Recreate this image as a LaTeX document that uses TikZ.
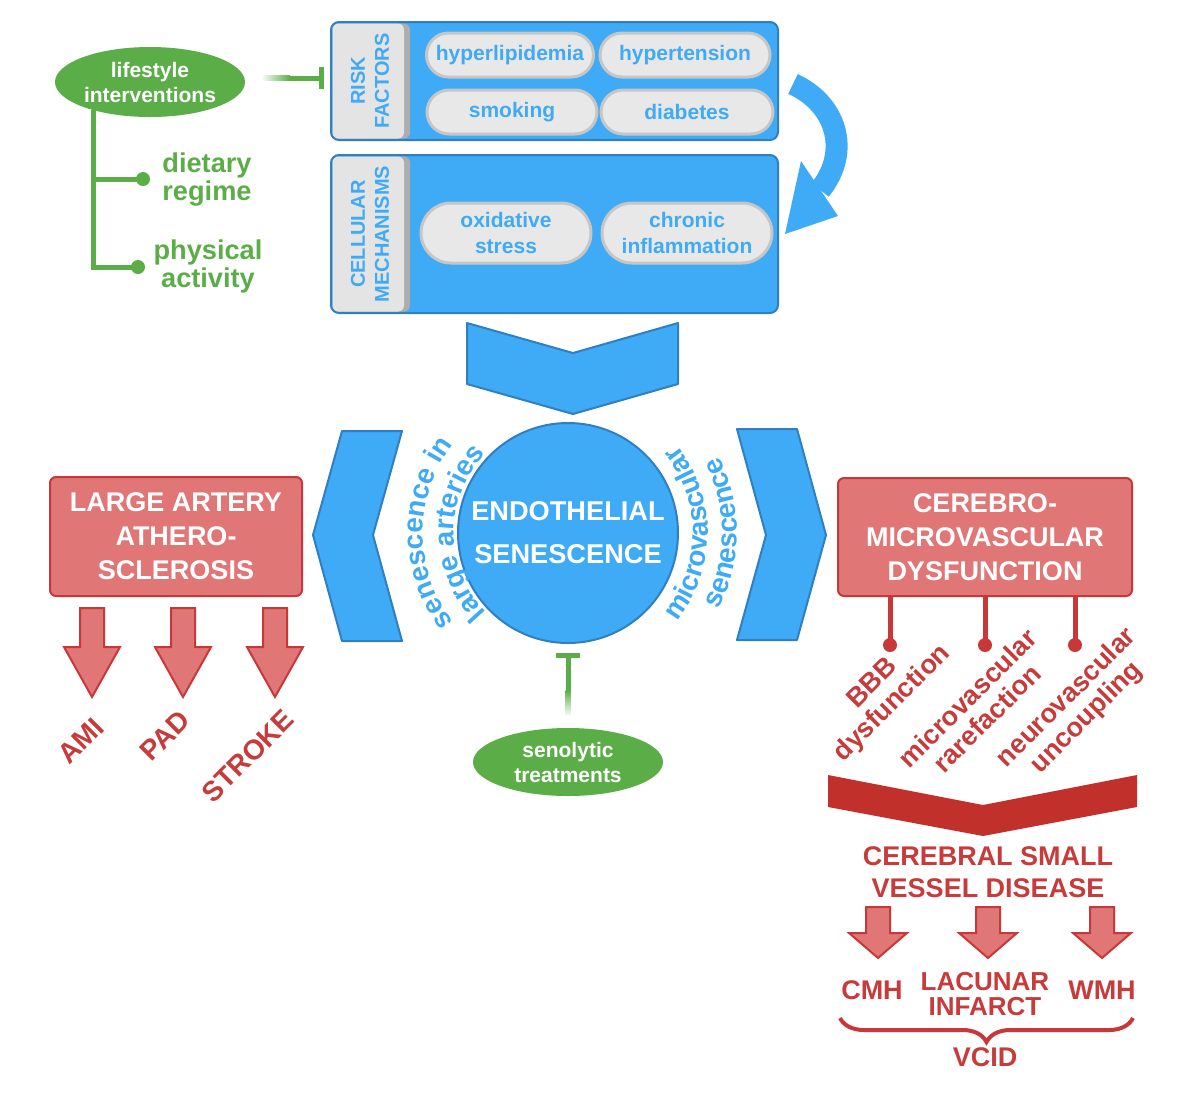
\documentclass[tikz,border=0pt]{standalone}
\usepackage{fontspec}
\setmainfont{Liberation Sans}
\usetikzlibrary{shapes.geometric,shapes.misc,arrows.meta,decorations.text,decorations.pathreplacing}

\definecolor{skyb}{HTML}{3FAAF5}
\definecolor{skyd}{HTML}{2F7FC1}
\definecolor{pillf}{HTML}{E8E8E8}
\definecolor{pilld}{HTML}{C6C6C6}
\definecolor{tabf}{HTML}{E4E4E4}
\definecolor{tabs}{HTML}{ADADAD}
\definecolor{grn}{HTML}{5BAE47}
\definecolor{redf}{HTML}{E07676}
\definecolor{redd}{HTML}{C93838}
\definecolor{redt}{HTML}{C73B3B}
\definecolor{redc}{HTML}{C2302B}

\newcommand\fs[2]{\fontsize{#1}{#2}\selectfont\bfseries}
\newcommand\cfont{\fontsize{14}{14}\selectfont\bfseries\color{skyb}}

\begin{document}
\begin{tikzpicture}[x=0.5pt,y=-0.5pt,
  panel/.style={draw=skyd, line width=1pt, fill=skyb, rounded corners=4pt, inner sep=0pt},
  pill/.style={shape=rounded rectangle, fill=pillf, draw=pilld, line width=1.5pt, minimum height=22pt, text=skyb, font=\fs{10.5}{13}, align=center, inner sep=0pt},
  tabtext/.style={rotate=90, text=skyb, font=\fs{10}{12}, align=center},
  gline/.style={draw=grn, line width=2.5pt},
  gdot/.style={circle, fill=grn, minimum size=7pt, inner sep=0pt},
  gell/.style={ellipse, fill=grn, text=white, font=\fs{10.5}{12.5}, align=center, inner sep=0pt},
  gtxt/.style={text=grn, font=\fs{13.6}{14}, align=center},
  rbox/.style={draw=redd, fill=redf, line width=1pt, rounded corners=3pt, text=white, font=\fs{13.5}{17}, align=center, inner sep=0pt},
  rlab/.style={text=redt, font=\fs{13.5}{14}, align=center, rotate=45, inner sep=0pt},
  rtxt/.style={text=redt, font=\fs{13.5}{16}, align=center, inner sep=0pt},
  rarrow/.style={fill=redf, draw=redd, line width=1pt},
  rline/.style={draw=redd, line width=2.5pt},
  rdot/.style={circle, fill=redd, minimum size=7pt, inner sep=0pt},
  bchev/.style={fill=skyb, draw=skyd, line width=1pt, line join=round},
  bigarr/.pic={\filldraw[rarrow] (-12,0) -- (12,0) -- (12,39) -- (28,39) -- (0,89) -- (-28,39) -- (-12,39) -- cycle;},
  smallarr/.pic={\filldraw[rarrow] (-12,0) -- (12,0) -- (12,26) -- (29,26) -- (0,51) -- (-29,26) -- (-12,26) -- cycle;}
]
\useasboundingbox (0,0) rectangle (1180,1100);

% ---------- risk factors panel ----------
\node[panel, minimum width=223.5pt, minimum height=59pt] (risk) at (554.5,81) {};
\fill[tabs, rounded corners=3pt] (332.5,23.5) rectangle (410,138.5);
\fill[tabf, rounded corners=3pt] (332.5,23.5) rectangle (404,138.5);
\node[tabtext] (risklab) at (370,81) {RISK\\FACTORS};
\node[pill, minimum width=83.5pt] (hyperl) at (510,55) {hyperlipidemia};
\node[pill, minimum width=85pt] (hypert) at (685,55) {hypertension};
\node[pill, minimum width=85pt] (smok) at (512,112) {smoking};
\node[pill, minimum width=86pt] (diab) at (687,112) {diabetes};

% ---------- cellular mechanisms panel ----------
\node[panel, minimum width=223.5pt, minimum height=79pt] (cell) at (554.5,234) {};
\fill[tabs, rounded corners=3pt] (332.5,156.5) rectangle (410,311.5);
\fill[tabf, rounded corners=3pt] (332.5,156.5) rectangle (404,311.5);
\node[tabtext] (celllab) at (370,234) {CELLULAR\\MECHANISMS};
\node[pill, minimum width=85pt, minimum height=30pt] (oxid) at (506,233) {oxidative\\stress};
\node[pill, minimum width=85pt, minimum height=30pt] (chron) at (687,233) {chronic\\inflammation};

% curved arrow between panels
\draw[skyb, line width=11pt] (793,84) .. controls (835,103) and (852,150) .. (820,190);
\fill[skyb] (801,161) -- (838,216) -- (785,234) -- cycle;

% big chevron
\filldraw[bchev] (467,323) -- (573,353) -- (678,323) -- (678,384) -- (573,414) -- (467,384) -- cycle;

% ---------- lifestyle ----------
\node[gell, minimum width=95pt, minimum height=35pt] (life) at (150,82) {lifestyle\\interventions};
\coordinate (lifeout) at (262,78);
\draw[gline, -{Bar[width=11pt]}, shorten >=3pt] (lifeout) -- (risk.west |- lifeout);
\shade[left color=white, right color=grn] (261,75.5) rectangle (290,80.5);
\coordinate (trunk) at (93,110);
\node[gdot] (d1) at (143,179) {};
\node[gdot] (d2) at (138,267) {};
\draw[gline] (trunk) |- (d2.center);
\draw[gline] (trunk |- d1) -- (d1.center);
\node[gtxt] (diet) at (207,180) {dietary\\regime};
\node[gtxt] (phys) at (208,266) {physical\\activity};

% ---------- endothelial senescence ----------
\node[circle, minimum size=110pt, fill=skyb, draw=skyd, line width=1pt, text=white, font=\fs{13.6}{21.5}, align=center, inner sep=0pt] (endo) at (568,533) {ENDOTHELIAL\\SENESCENCE};

\filldraw[bchev] (342,431) -- (402,431) -- (373,535) -- (402,641) -- (342,641) -- (313,535) -- cycle;
\filldraw[bchev] (737,429) -- (797,429) -- (826,535) -- (797,640) -- (737,640) -- (766,535) -- cycle;

\path[decorate, decoration={text along path, text align=center, text={|\cfont|senescence in}}]
  (endo.center) ++(120:145) arc[start angle=120, end angle=240, radius=145];
\path[decorate, decoration={text along path, text align=center, text={|\cfont|large arteries}}]
  (endo.center) ++(120:114) arc[start angle=120, end angle=240, radius=114];
\path[decorate, decoration={text along path, text align=center, text={|\cfont|microvascular}}]
  (endo.center) ++(60:140) arc[start angle=60, end angle=-60, radius=140];
\path[decorate, decoration={text along path, text align=center, text={|\cfont|senescence}}]
  (endo.center) ++(60:169) arc[start angle=60, end angle=-60, radius=169];

% senolytic
\node[gell, minimum width=95pt, minimum height=34pt] (seno) at (568,762) {senolytic\\treatments};
\draw[gline, -{Bar[width=12pt]}, shorten <=6.5pt, shorten >=4.5pt] (seno.north) -- (endo.south);
\shade[top color=grn, bottom color=white] (565.5,690) rectangle (570.5,716);

% ---------- large artery atherosclerosis ----------
\node[rbox, minimum width=126pt, minimum height=59.5pt] (laa) at (176,536.5) {LARGE ARTERY\\ATHERO-\\SCLEROSIS};
\pic at (92,608) {bigarr};
\pic at (183,608) {bigarr};
\pic at (275,608) {bigarr};
\node[rlab, font=\fs{14}{14}] (ami) at (81,741) {AMI};
\node[rlab, font=\fs{14}{14}] (pad) at (165,736) {PAD};
\node[rlab, font=\fs{14}{14}] (strk) at (248,756) {STROKE};

% ---------- cerebromicrovascular dysfunction ----------
\node[rbox, minimum width=147pt, minimum height=59pt] (cmd) at (985,537) {CEREBRO-\\MICROVASCULAR\\DYSFUNCTION};
\node[rdot] (b1) at (890,645) {};
\node[rdot] (b2) at (985,645) {};
\node[rdot] (b3) at (1075,645) {};
\draw[rline] (b1.center) -- (b1 |- cmd.south);
\draw[rline] (b2.center) -- (b2 |- cmd.south);
\draw[rline] (b3.center) -- (b3 |- cmd.south);
\node[rlab] (l1) at (883,694) {BBB\\dysfunction};
\node[rlab] (l2) at (977,708) {microvascular\\rarefaction};
\node[rlab] (l3) at (1077,708) {neurovascular\\uncoupling};

\fill[redc] (828,775) -- (983,805) -- (1137,775) -- (1137,807) -- (983,836) -- (828,807) -- cycle;

\node[rtxt] (csvd) at (988,872) {CEREBRAL SMALL\\VESSEL DISEASE};
\pic at (878,907) {smallarr};
\pic at (988,907) {smallarr};
\pic at (1102,907) {smallarr};
\node[rtxt] (cmh) at (872,990) {CMH};
\node[rtxt, font=\fs{13}{12.5}] (lac) at (985,994) {LACUNAR\\INFARCT};
\node[rtxt] (wmh) at (1102,990) {WMH};
\coordinate (brl) at (840,1018);
\coordinate (brr) at (1133,1018);
\draw[redd, line width=2pt, decorate, decoration={brace, mirror, amplitude=12pt}] (brl) -- (brr);
\node[rtxt] (vcid) at (985,1057) {VCID};
\end{tikzpicture}
\end{document}
